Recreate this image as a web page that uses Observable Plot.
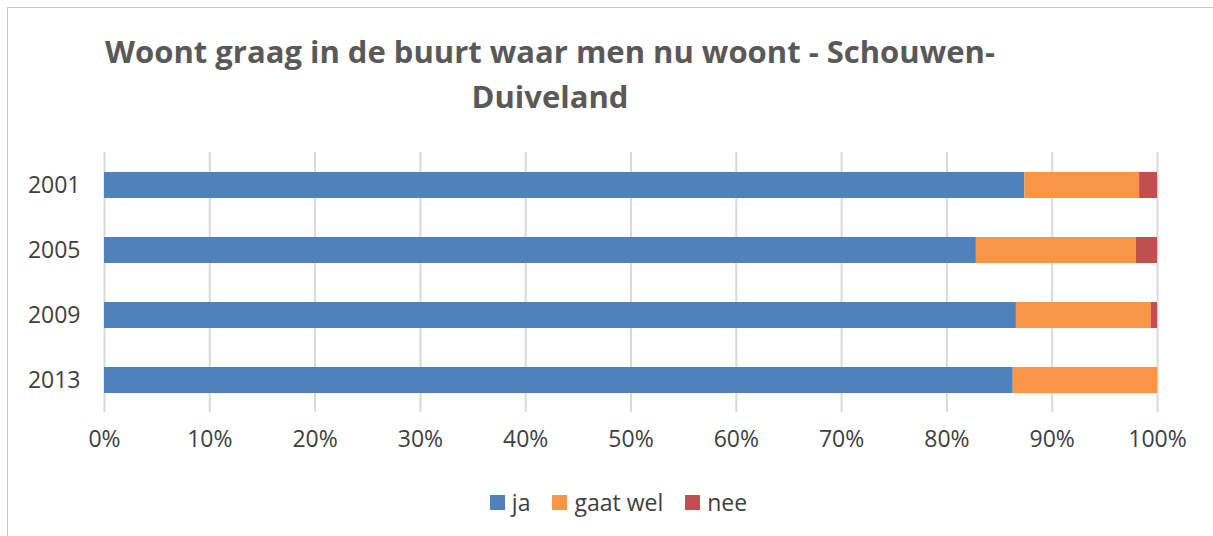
<!DOCTYPE html>
<html>
<head>
<meta charset="utf-8">
<script src="https://cdn.jsdelivr.net/npm/d3@7"></script>
<script src="https://cdn.jsdelivr.net/npm/@observablehq/plot@0.6"></script>
<style>
  html, body { margin: 0; padding: 0; background: #fff; }
  #wrap { position: relative; width: 1213px; height: 536px; overflow: hidden; font-family: "Open Sans", sans-serif; }
  #frame { position: absolute; left: 7px; top: 7px; width: 1220px; height: 540px; border-left: 1.5px solid #c8c8c8; border-top: 1.5px solid #c8c8c8; }
  #title { position: absolute; left: 0; width: 1100px; top: 29px; text-align: center; font-weight: bold; font-size: 31px; line-height: 45px; color: #595959; }
  #chart { position: absolute; left: 0; top: 0; }
  #legend { position: absolute; left: 12px; width: 1213px; top: 486px; display: flex; justify-content: center; gap: 0; font-size: 23px; color: #404040; }
  .item { display: flex; align-items: center; margin: 0 11px; }
  .sw { width: 15px; height: 15px; margin-right: 7px; }
</style>
</head>
<body>
<div id="wrap">
  <div id="frame"></div>
  <div id="chart"></div>
  <div id="title">Woont graag in de buurt waar men nu woont - Schouwen-<br>Duiveland</div>
  <div id="legend"></div>
</div>
<script>
const years = ["2001", "2005", "2009", "2013"];
const series = ["ja", "gaat wel", "nee"];
const ja = [87.4, 82.8, 86.6, 86.3];
const gaatWel = [10.9, 15.2, 12.8, 13.7];
const nee = [1.7, 2.0, 0.6, 0.0];
const colors = ["#4f81bd", "#f79646", "#c0504d"];
const xTicks = [0, 10, 20, 30, 40, 50, 60, 70, 80, 90, 100];

const valuesBySeries = [ja, gaatWel, nee];
const data = [];
series.forEach((s, si) => years.forEach((y, yi) => data.push({year: y, series: s, value: valuesBySeries[si][yi], order: si})));

const chart = Plot.plot({
  width: 1213,
  height: 470,
  marginLeft: 104,
  marginRight: 56,
  marginTop: 152,
  marginBottom: 58,
  style: {fontFamily: "Open Sans, sans-serif", fontSize: "23px", color: "#404040", background: "transparent"},
  x: {domain: [0, 100], ticks: xTicks, tickFormat: d => d + "%", label: null, tickSize: 0, tickPadding: 18},
  y: {domain: years, label: null, tickSize: 0, tickPadding: 24, paddingInner: 0.6, paddingOuter: 0.3},
  color: {domain: series, range: colors},
  marks: [
    Plot.gridX(xTicks, {stroke: "#d9d9d9", strokeWidth: 2, strokeOpacity: 1}),
    Plot.barX(data, Plot.stackX({x: "value", y: "year", fill: "series", order: "order", inset: 0})),
  ]
});
document.getElementById("chart").appendChild(chart);

const legend = document.getElementById("legend");
series.forEach((s, i) => {
  const item = document.createElement("div");
  item.className = "item";
  const sw = document.createElement("div");
  sw.className = "sw";
  sw.style.background = colors[i];
  const t = document.createElement("span");
  t.textContent = s;
  item.appendChild(sw);
  item.appendChild(t);
  legend.appendChild(item);
});
</script>
</body>
</html>
